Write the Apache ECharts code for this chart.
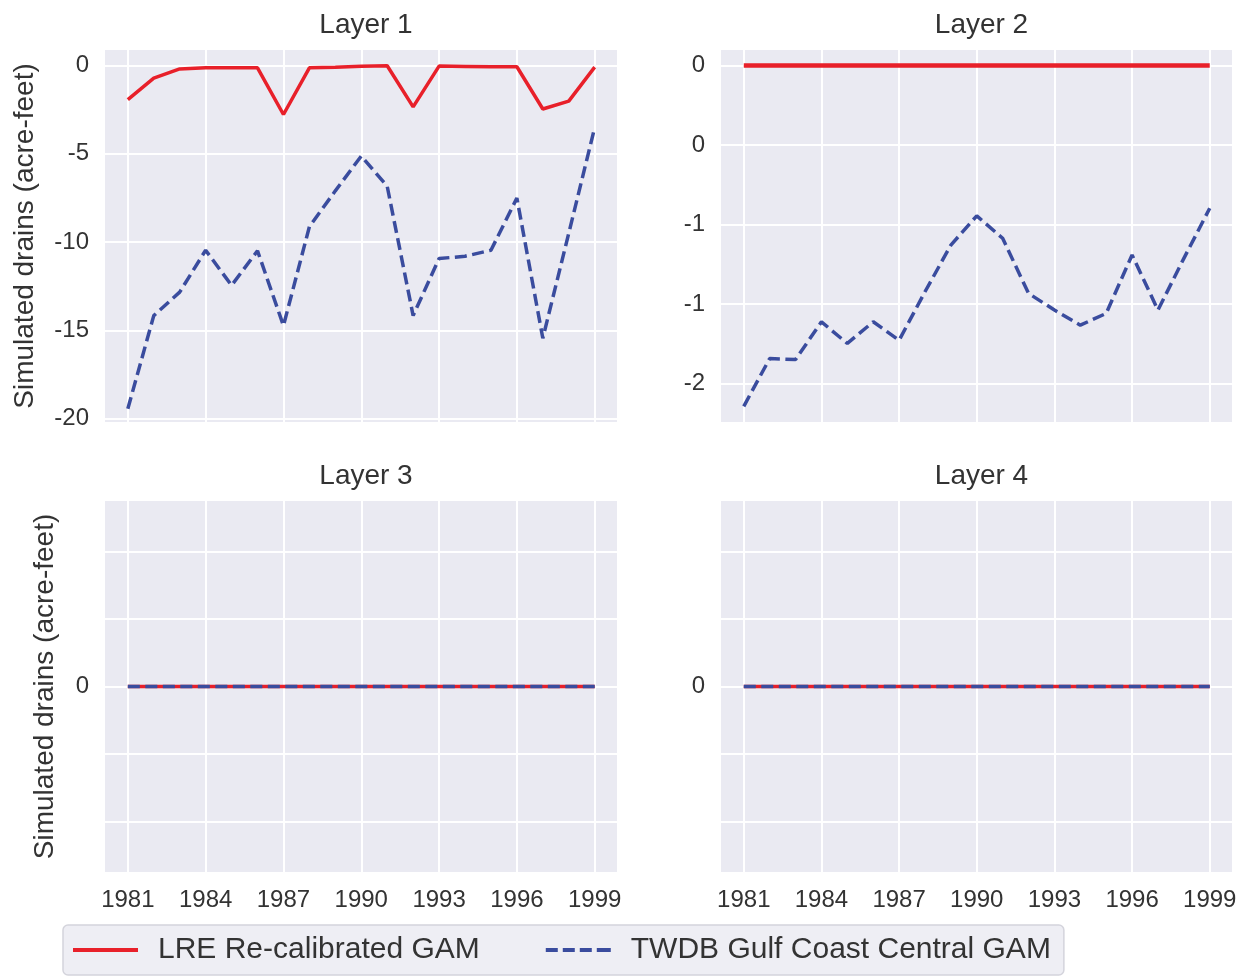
<!DOCTYPE html>
<html><head><meta charset="utf-8">
<script src="https://cdn.jsdelivr.net/npm/echarts@6/dist/echarts.min.js"></script>
<style>html,body{margin:0;padding:0;background:#fff}#c{width:1249px;height:979px}</style>
</head><body><div id="c"></div><script>
const years = [1981,1982,1983,1984,1985,1986,1987,1988,1989,1990,1991,1992,1993,1994,1995,1996,1997,1998,1999];
const xTicks = [1981,1984,1987,1990,1993,1996,1999];
const layerTitles = ['Layer 1','Layer 2','Layer 3','Layer 4'];
const seriesNames = ['LRE Re-calibrated GAM','TWDB Gulf Coast Central GAM'];

const lreLayer1  = [-1.94,-0.72,-0.2,-0.14,-0.14,-0.14,-2.78,-0.14,-0.1,-0.05,-0.02,-2.35,-0.04,-0.06,-0.08,-0.08,-2.47,-2.02,-0.1];
const twdbLayer1 = [-19.43,-14.16,-12.83,-10.46,-12.45,-10.49,-14.73,-9.13,-7.1,-5.13,-6.84,-14.16,-10.93,-10.8,-10.46,-7.51,-15.44,-9.5,-3.52];
const lreLayer2  = [0,0,0,0,0,0,0,0,0,0,0,0,0,0,0,0,0,0,0];
const twdbLayer2 = [-1.714,-1.474,-1.479,-1.289,-1.398,-1.289,-1.382,-1.138,-0.903,-0.756,-0.869,-1.146,-1.23,-1.306,-1.247,-0.953,-1.23,-0.97,-0.718];
const lreLayer3  = [0,0,0,0,0,0,0,0,0,0,0,0,0,0,0,0,0,0,0];
const twdbLayer3 = [0,0,0,0,0,0,0,0,0,0,0,0,0,0,0,0,0,0,0];
const lreLayer4  = [0,0,0,0,0,0,0,0,0,0,0,0,0,0,0,0,0,0,0];
const twdbLayer4 = [0,0,0,0,0,0,0,0,0,0,0,0,0,0,0,0,0,0,0];

const yTicks1 = [0,-5,-10,-15,-20];
const yTickLabels1 = ['0','-5','-10','-15','-20'];
const yTicks2 = [0,-0.4,-0.8,-1.2,-1.6];
const yTickLabels2 = ['0','0','-1','-1','-2'];
const yTicks34 = [-0.04,-0.02,0,0.02,0.04];
const yTickLabels34 = ['','','0','',''];

const yLabel = 'Simulated drains (acre-feet)';

const lreData = [lreLayer1, lreLayer2, lreLayer3, lreLayer4];
const twdbData = [twdbLayer1, twdbLayer2, twdbLayer3, twdbLayer4];
const yTicksAll = [yTicks1, yTicks2, yTicks34, yTicks34];
const yLabelsAll = [yTickLabels1, yTickLabels2, yTickLabels34, yTickLabels34];
const yRanges = [[-20.18, 0.87],[-1.793, 0.078],[-0.055,0.055],[-0.055,0.055]];

const RED = '#e8202a', BLUE = '#3a4c9e', TXT = '#333333', FONT = 'Liberation Sans, Arial, sans-serif';

const gridsPos = [
  {left:105, top:50, width:512, height:372},
  {left:721, top:50, width:511, height:372},
  {left:105, top:501, width:512, height:371},
  {left:721, top:501, width:511, height:371}
];

function pair(arr){ return years.map((y,i)=>[y, arr[i]]); }
function labeler(ticks, labels){
  return function(v){
    for (let i=0;i<ticks.length;i++){ if (Math.abs(v-ticks[i])<1e-9) return labels[i]; }
    return '';
  };
}

const option = {
  backgroundColor:'#ffffff',
  animation:false,
  textStyle:{fontFamily:FONT},
  title: layerTitles.map((t,i)=>({
    text:t, left: gridsPos[i].left + gridsPos[i].width/2, textAlign:'center',
    top: i<2 ? 6 : 457,
    textStyle:{fontSize:28, fontWeight:'normal', color:TXT, fontFamily:FONT}
  })),
  legend:{
    left:63, top:925,
    data: [
      {name:seriesNames[0], icon:'path://M0,0H65V4H0Z'},
      {name:seriesNames[1], icon:'path://M0,0H12V4H0Z M17,0H29V4H17Z M34,0H46V4H34Z M51,0H62V4H51Z M62,0H65V4H62Z'}
    ],
    itemWidth:65, itemHeight:4, itemGap:66,
    padding:[10,13,10,10],
    backgroundColor:'#eeeef4', borderColor:'#d4d4dc', borderWidth:1.5, borderRadius:5,
    textStyle:{fontSize:30, color:TXT, fontFamily:FONT, padding:[0,0,0,15], lineHeight:30},
    selectedMode:false
  },
  grid: gridsPos.map(g=>Object.assign({backgroundColor:'#eaeaf2', show:true, borderWidth:0}, g)),
  xAxis: gridsPos.map((g,i)=>({
    type:'value', gridIndex:i, min:1980.12, max:1999.86,
    axisLine:{show:false}, axisTick:{show:false, customValues:xTicks},
    axisLabel:{show: i>=2, customValues:xTicks, fontSize:24, color:TXT, margin:16, fontFamily:FONT,
      formatter: v=>String(v)},
    splitLine:{show:true, lineStyle:{color:'#ffffff', width:2}}
  })),
  yAxis: gridsPos.map((g,i)=>({
    type:'value', gridIndex:i, min:yRanges[i][0], max:yRanges[i][1],
    name: (i===0||i===2) ? yLabel : '',
    nameLocation:'middle', nameRotate:90,
    nameGap: i===0 ? 66 : 46,
    nameTextStyle:{fontSize:28, color:TXT, fontFamily:FONT},
    axisLine:{show:false}, axisTick:{show:false, customValues:yTicksAll[i]},
    axisLabel:{customValues:yTicksAll[i], fontSize:24, color:TXT, margin:16, fontFamily:FONT,
      formatter: labeler(yTicksAll[i], yLabelsAll[i])},
    splitLine:{show:true, lineStyle:{color:'#ffffff', width:2}}
  })),
  series: []
};

for (let i=0;i<4;i++){
  option.series.push({
    name: seriesNames[0], type:'line', xAxisIndex:i, yAxisIndex:i,
    data: pair(lreData[i]), symbol:'none', z:3,
    lineStyle:{color:RED, width: i===1 ? 4.5 : 3.5},
    itemStyle:{color:RED}
  });
  option.series.push({
    name: seriesNames[1], type:'line', xAxisIndex:i, yAxisIndex:i,
    data: pair(twdbData[i]), symbol:'none', z:4,
    lineStyle:{color:BLUE, width:3.5, type:[12,5.5]},
    itemStyle:{color:BLUE}
  });
}

const chart = echarts.init(document.getElementById('c'), null, {renderer:'canvas'});
chart.setOption(option);
</script></body></html>
